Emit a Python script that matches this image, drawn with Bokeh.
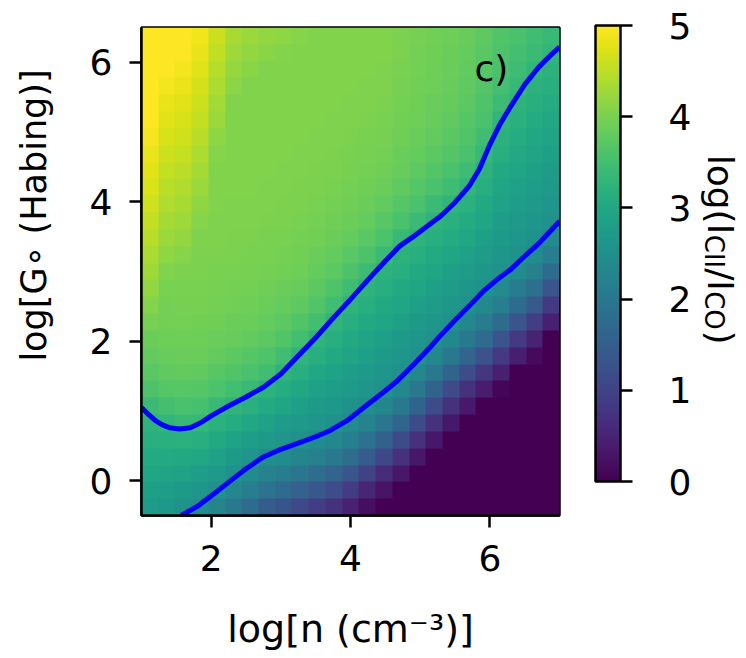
import math
import numpy as np
from bokeh.plotting import figure
from bokeh.layouts import row
from bokeh.models import LinearColorMapper, ColorBar, FixedTicker, Range1d, Label
from bokeh.palettes import Viridis256
from bokeh.embed import file_html
from bokeh.resources import INLINE

# ---------------- data ----------------
# model grid: log n (columns) and log G0 (rows)
log_n = [1.0, 1.25, 1.5, 1.75, 2.0, 2.25, 2.5, 2.75, 3.0, 3.25, 3.5, 3.75, 4.0,
         4.25, 4.5, 4.75, 5.0, 5.25, 5.5, 5.75, 6.0, 6.25, 6.5, 6.75, 7.0]
log_G0 = [-0.5, -0.25, 0.0, 0.25, 0.5, 0.75, 1.0, 1.25, 1.5, 1.75, 2.0, 2.25, 2.5,
          2.75, 3.0, 3.25, 3.5, 3.75, 4.0, 4.25, 4.5, 4.75, 5.0, 5.25, 5.5, 5.75,
          6.0, 6.25, 6.5]

# log(I_CII/I_CO) for each log n, listed from log G0 = -0.5 up to 6.5
ratio_n100 = [2.74, 2.84, 2.95, 3.05, 3.15, 3.25, 3.41, 3.60, 3.72, 3.80, 3.87, 3.97, 4.07, 4.18, 4.28, 4.37, 4.47, 4.55, 4.64, 4.71, 4.78, 4.86, 4.93, 5.00, 5.07, 5.15, 5.22, 5.29, 5.36]
ratio_n125 = [2.67, 2.80, 2.92, 3.05, 3.18, 3.31, 3.53, 3.68, 3.77, 3.84, 3.89, 3.94, 3.96, 3.99, 4.06, 4.15, 4.24, 4.33, 4.41, 4.48, 4.55, 4.62, 4.70, 4.77, 4.84, 4.91, 4.99, 5.06, 5.13]
ratio_n150 = [2.56, 2.72, 2.88, 3.04, 3.20, 3.37, 3.56, 3.70, 3.79, 3.86, 3.90, 3.95, 3.97, 4.00, 4.01, 4.09, 4.18, 4.27, 4.34, 4.41, 4.48, 4.56, 4.63, 4.70, 4.77, 4.85, 4.92, 4.99, 5.06]
ratio_n175 = [2.46, 2.64, 2.81, 2.99, 3.16, 3.34, 3.54, 3.69, 3.78, 3.85, 3.89, 3.94, 3.97, 3.99, 4.01, 4.02, 4.04, 4.10, 4.17, 4.25, 4.32, 4.39, 4.46, 4.54, 4.61, 4.68, 4.75, 4.83, 4.90]
ratio_n200 = [2.28, 2.52, 2.68, 2.86, 3.03, 3.20, 3.39, 3.58, 3.71, 3.79, 3.86, 3.91, 3.95, 3.98, 4.00, 4.01, 4.03, 4.04, 4.05, 4.05, 4.05, 4.09, 4.16, 4.24, 4.31, 4.38, 4.45, 4.53, 4.60]
ratio_n225 = [2.03, 2.34, 2.56, 2.73, 2.91, 3.09, 3.27, 3.48, 3.64, 3.74, 3.83, 3.88, 3.93, 3.96, 3.99, 4.01, 4.02, 4.04, 4.04, 4.05, 4.05, 4.05, 4.05, 4.05, 4.05, 4.13, 4.20, 4.27, 4.34]
ratio_n250 = [1.76, 2.13, 2.41, 2.61, 2.80, 2.98, 3.17, 3.36, 3.56, 3.69, 3.79, 3.86, 3.90, 3.95, 3.97, 4.00, 4.01, 4.03, 4.04, 4.05, 4.05, 4.05, 4.05, 4.05, 4.05, 4.05, 4.11, 4.18, 4.25]
ratio_n275 = [1.47, 1.90, 2.24, 2.49, 2.68, 2.87, 3.06, 3.24, 3.46, 3.62, 3.74, 3.81, 3.87, 3.92, 3.96, 3.99, 4.00, 4.01, 4.03, 4.04, 4.05, 4.05, 4.05, 4.05, 4.05, 4.05, 4.05, 4.11, 4.18]
ratio_n300 = [1.29, 1.75, 2.11, 2.41, 2.60, 2.76, 2.93, 3.10, 3.27, 3.47, 3.64, 3.74, 3.82, 3.88, 3.93, 3.96, 3.99, 4.01, 4.02, 4.03, 4.04, 4.05, 4.05, 4.05, 4.05, 4.05, 4.05, 4.08, 4.15]
ratio_n325 = [1.10, 1.57, 1.97, 2.30, 2.52, 2.68, 2.83, 2.98, 3.13, 3.28, 3.49, 3.65, 3.75, 3.83, 3.89, 3.93, 3.96, 3.99, 4.01, 4.02, 4.04, 4.04, 4.05, 4.05, 4.05, 4.05, 4.05, 4.05, 4.10]
ratio_n350 = [0.90, 1.38, 1.81, 2.17, 2.44, 2.60, 2.73, 2.87, 3.00, 3.14, 3.28, 3.48, 3.64, 3.74, 3.82, 3.88, 3.93, 3.96, 3.99, 4.01, 4.02, 4.04, 4.04, 4.05, 4.05, 4.05, 4.05, 4.05, 4.05]
ratio_n375 = [0.73, 1.19, 1.63, 2.03, 2.34, 2.54, 2.66, 2.78, 2.90, 3.03, 3.15, 3.27, 3.46, 3.63, 3.74, 3.81, 3.88, 3.92, 3.96, 3.99, 4.01, 4.02, 4.03, 4.04, 4.05, 4.05, 4.05, 4.05, 4.05]
ratio_n400 = [0.45, 0.86, 1.34, 1.79, 2.15, 2.42, 2.57, 2.69, 2.80, 2.92, 3.04, 3.15, 3.26, 3.44, 3.61, 3.73, 3.81, 3.87, 3.92, 3.96, 3.98, 4.00, 4.01, 4.03, 4.04, 4.05, 4.05, 4.05, 4.05]
ratio_n425 = [0.19, 0.54, 0.97, 1.46, 1.89, 2.23, 2.47, 2.60, 2.71, 2.82, 2.92, 3.04, 3.15, 3.25, 3.43, 3.61, 3.72, 3.81, 3.87, 3.91, 3.96, 3.98, 4.00, 4.01, 4.03, 4.04, 4.05, 4.05, 4.05]
ratio_n450 = [0.00, 0.26, 0.63, 1.08, 1.56, 1.97, 2.29, 2.52, 2.62, 2.72, 2.83, 2.93, 3.04, 3.14, 3.24, 3.40, 3.59, 3.71, 3.80, 3.86, 3.91, 3.95, 3.98, 4.00, 4.01, 4.03, 4.04, 4.05, 4.05]
ratio_n475 = [0.00, 0.00, 0.33, 0.72, 1.17, 1.63, 2.02, 2.33, 2.53, 2.63, 2.73, 2.84, 2.93, 3.04, 3.14, 3.24, 3.38, 3.56, 3.69, 3.77, 3.84, 3.88, 3.92, 3.94, 3.96, 3.98, 3.99, 4.01, 4.01]
ratio_n500 = [0.00, 0.00, 0.00, 0.33, 0.71, 1.16, 1.61, 2.01, 2.33, 2.52, 2.63, 2.73, 2.84, 2.94, 3.04, 3.15, 3.25, 3.40, 3.56, 3.68, 3.76, 3.81, 3.86, 3.89, 3.91, 3.94, 3.95, 3.96, 3.97]
ratio_n525 = [0.00, 0.00, 0.00, 0.00, 0.33, 0.71, 1.16, 1.61, 2.01, 2.33, 2.52, 2.64, 2.74, 2.84, 2.95, 3.05, 3.16, 3.26, 3.41, 3.56, 3.66, 3.74, 3.79, 3.83, 3.86, 3.89, 3.90, 3.91, 3.93]
ratio_n550 = [0.00, 0.00, 0.00, 0.00, 0.00, 0.33, 0.71, 1.16, 1.62, 2.02, 2.33, 2.53, 2.64, 2.75, 2.85, 2.96, 3.07, 3.17, 3.28, 3.44, 3.57, 3.66, 3.72, 3.77, 3.81, 3.84, 3.86, 3.87, 3.89]
ratio_n575 = [0.00, 0.00, 0.00, 0.00, 0.00, 0.00, 0.34, 0.73, 1.19, 1.63, 2.03, 2.34, 2.53, 2.64, 2.75, 2.86, 2.97, 3.08, 3.19, 3.29, 3.45, 3.56, 3.64, 3.69, 3.74, 3.77, 3.79, 3.81, 3.83]
ratio_n600 = [0.00, 0.00, 0.00, 0.00, 0.00, 0.00, 0.00, 0.41, 0.81, 1.28, 1.74, 2.10, 2.40, 2.55, 2.65, 2.75, 2.84, 2.94, 3.04, 3.13, 3.23, 3.34, 3.47, 3.56, 3.62, 3.67, 3.70, 3.73, 3.75]
ratio_n625 = [0.00, 0.00, 0.00, 0.00, 0.00, 0.00, 0.00, 0.06, 0.43, 0.85, 1.32, 1.77, 2.13, 2.42, 2.55, 2.64, 2.72, 2.80, 2.88, 2.96, 3.04, 3.13, 3.21, 3.29, 3.42, 3.51, 3.57, 3.61, 3.64]
ratio_n650 = [0.00, 0.00, 0.00, 0.00, 0.00, 0.00, 0.00, 0.00, 0.00, 0.42, 0.84, 1.31, 1.76, 2.12, 2.41, 2.55, 2.63, 2.70, 2.78, 2.86, 2.94, 3.01, 3.09, 3.17, 3.25, 3.34, 3.44, 3.51, 3.56]
ratio_n675 = [0.00, 0.00, 0.00, 0.00, 0.00, 0.00, 0.00, 0.00, 0.00, 0.12, 0.47, 0.91, 1.39, 1.83, 2.18, 2.44, 2.56, 2.63, 2.71, 2.78, 2.85, 2.92, 3.00, 3.08, 3.15, 3.22, 3.30, 3.40, 3.47]
ratio_n700 = [0.00, 0.00, 0.00, 0.00, 0.00, 0.00, 0.00, 0.00, 0.00, 0.00, 0.00, 0.43, 0.84, 1.32, 1.76, 2.13, 2.41, 2.55, 2.62, 2.70, 2.77, 2.84, 2.92, 3.00, 3.08, 3.15, 3.23, 3.30, 3.39]

# contour lines (log n, log G0)
upper_n = [1.0, 1.1, 1.2, 1.3, 1.4, 1.55, 1.7, 1.85, 2.0, 2.25, 2.5, 2.75, 3.0, 3.25,
           3.5, 3.75, 4.0, 4.25, 4.5, 4.7, 4.9, 5.1, 5.3, 5.5, 5.7, 5.85, 6.0, 6.15,
           6.3, 6.5, 6.7, 6.85, 7.0]
upper_g = [1.05, 0.95, 0.86, 0.80, 0.76, 0.74, 0.76, 0.83, 0.93, 1.07, 1.20, 1.34, 1.53,
           1.79, 2.05, 2.33, 2.60, 2.88, 3.15, 3.36, 3.50, 3.65, 3.80, 3.99, 4.22, 4.47,
           4.82, 5.12, 5.37, 5.68, 5.93, 6.08, 6.22]
lower_n = [1.57, 1.8, 2.05, 2.28, 2.5, 2.75, 3.0, 3.23, 3.5, 3.71, 3.95, 4.19, 4.45,
           4.67, 4.9, 5.14, 5.29, 5.5, 5.7, 5.91, 6.1, 6.3, 6.48, 6.7, 6.85, 7.0]
lower_g = [-0.5, -0.37, -0.18, 0.0, 0.17, 0.34, 0.45, 0.53, 0.63, 0.72, 0.86, 1.05, 1.25,
           1.43, 1.66, 1.91, 2.08, 2.30, 2.50, 2.72, 2.88, 3.03, 3.20, 3.40, 3.56, 3.72]

x_ticks = [2, 4, 6]
y_ticks = [0, 2, 4, 6]
cbar_ticks = [0, 1, 2, 3, 4, 5]

columns = [ratio_n100, ratio_n125, ratio_n150, ratio_n175, ratio_n200, ratio_n225,
           ratio_n250, ratio_n275, ratio_n300, ratio_n325, ratio_n350, ratio_n375,
           ratio_n400, ratio_n425, ratio_n450, ratio_n475, ratio_n500, ratio_n525,
           ratio_n550, ratio_n575, ratio_n600, ratio_n625, ratio_n650, ratio_n675,
           ratio_n700]
z = np.array(columns, dtype=float).T  # rows = log G0, cols = log n

FONT = "DejaVu Sans"
H = 658


def blank_panel(width):
    f = figure(width=width, height=H, x_range=Range1d(0, 1), y_range=Range1d(0, 1),
               x_axis_location=None, y_axis_location=None, toolbar_location=None,
               output_backend="svg", min_border=0)
    f.title.visible = False
    f.grid.visible = False
    f.outline_line_color = None
    f.background_fill_color = "white"
    f.border_fill_color = "white"
    return f


# Labels below are placed in screen units measured from the bottom-left of the
# (row-aligned) plot frame, which spans y = 27 .. 515 px from the top.
FRAME_BOTTOM = 515

# ---------------- left strip: y-axis title ----------------
lf = blank_panel(60)
lf.add_layout(Label(x=33, y=FRAME_BOTTOM - 215, x_units="screen", y_units="screen",
                    text="log[G∘ (Habing)]", angle=math.pi / 2,
                    text_align="center", text_baseline="middle",
                    text_font=FONT, text_font_size="35px", text_color="black"))

# ---------------- main heat map ----------------
p = figure(width=636, height=H, x_range=Range1d(1, 7), y_range=Range1d(-0.5, 6.5),
           output_backend="svg", toolbar_location=None,
           min_border_left=81, min_border_right=137, min_border_top=27,
           min_border_bottom=143)
p.title.visible = False
p.grid.visible = False
p.background_fill_color = "white"
p.border_fill_color = "white"
p.outline_line_color = "black"
p.outline_line_width = 2.5

mapper = LinearColorMapper(palette=Viridis256, low=0, high=5)
p.image(image=[z], x=log_n[0], y=log_G0[0], dw=log_n[-1] - log_n[0],
        dh=log_G0[-1] - log_G0[0], color_mapper=mapper)

p.line(upper_n, upper_g, line_color="#0000ff", line_width=5, line_join="round")
p.line(lower_n, lower_g, line_color="#0000ff", line_width=5, line_join="round")

p.xaxis.ticker = FixedTicker(ticks=x_ticks)
p.yaxis.ticker = FixedTicker(ticks=y_ticks)
for ax in (p.xaxis[0], p.yaxis[0]):
    ax.major_tick_out = 12
    ax.major_tick_in = 0
    ax.minor_tick_out = 0
    ax.minor_tick_in = 0
    ax.major_tick_line_width = 2.5
    ax.major_tick_line_color = "black"
    ax.axis_line_color = "black"
    ax.axis_line_width = 2.5
    ax.major_label_text_font = FONT
    ax.major_label_text_font_size = "36px"
    ax.major_label_text_color = "black"
    ax.axis_label_text_font = FONT
    ax.axis_label_text_font_size = "38px"
    ax.axis_label_text_font_style = "normal"
    ax.axis_label_text_color = "black"

p.xaxis.major_label_standoff = 17
p.yaxis.major_label_standoff = 17
p.xaxis.axis_label = "log[n (cm⁻³)]"
p.xaxis.axis_label_standoff = 33

# panel tag
p.add_layout(Label(x=350, y=447, x_units="screen", y_units="screen", text="c)",
                   text_align="center", text_baseline="middle",
                   text_font=FONT, text_font_size="36px", text_color="black"))

# colour bar
cb = ColorBar(color_mapper=mapper, ticker=FixedTicker(ticks=cbar_ticks),
              width=25, height=456, location=(36, 34), padding=0, margin=0,
              bar_line_color="black", bar_line_width=2.5,
              major_tick_out=12, major_tick_in=0, major_tick_line_color="black",
              major_tick_line_width=2.5, label_standoff=36,
              major_label_text_font=FONT, major_label_text_font_size="36px",
              major_label_text_color="black",
              background_fill_alpha=0, border_line_color=None)
p.add_layout(cb, "right")

# ---------------- right strip: colour-bar title log(I_CII / I_CO) ----------------
rf = blank_panel(50)          # spans x = 696 .. 746 px of the page
main_cx = 24                  # centre line of the main text (page x ~ 720)
sub_cx = 17                   # centre line of the lowered subscripts
pieces = [("log(I", main_cx, 194, "36px"),
          ("CII", sub_cx, 251, "26px"),
          ("/I", main_cx, 279, "36px"),
          ("CO", sub_cx, 310, "26px"),
          (")", main_cx, 337, "36px")]
for txt, px, py_top, fs in pieces:
    rf.add_layout(Label(x=px, y=FRAME_BOTTOM - py_top, x_units="screen",
                        y_units="screen", text=txt, angle=-math.pi / 2,
                        text_align="center", text_baseline="middle",
                        text_font=FONT, text_font_size=fs, text_color="black"))

layout = row(lf, p, rf, spacing=0)
open("out.html", "w").write(file_html(layout, INLINE))
